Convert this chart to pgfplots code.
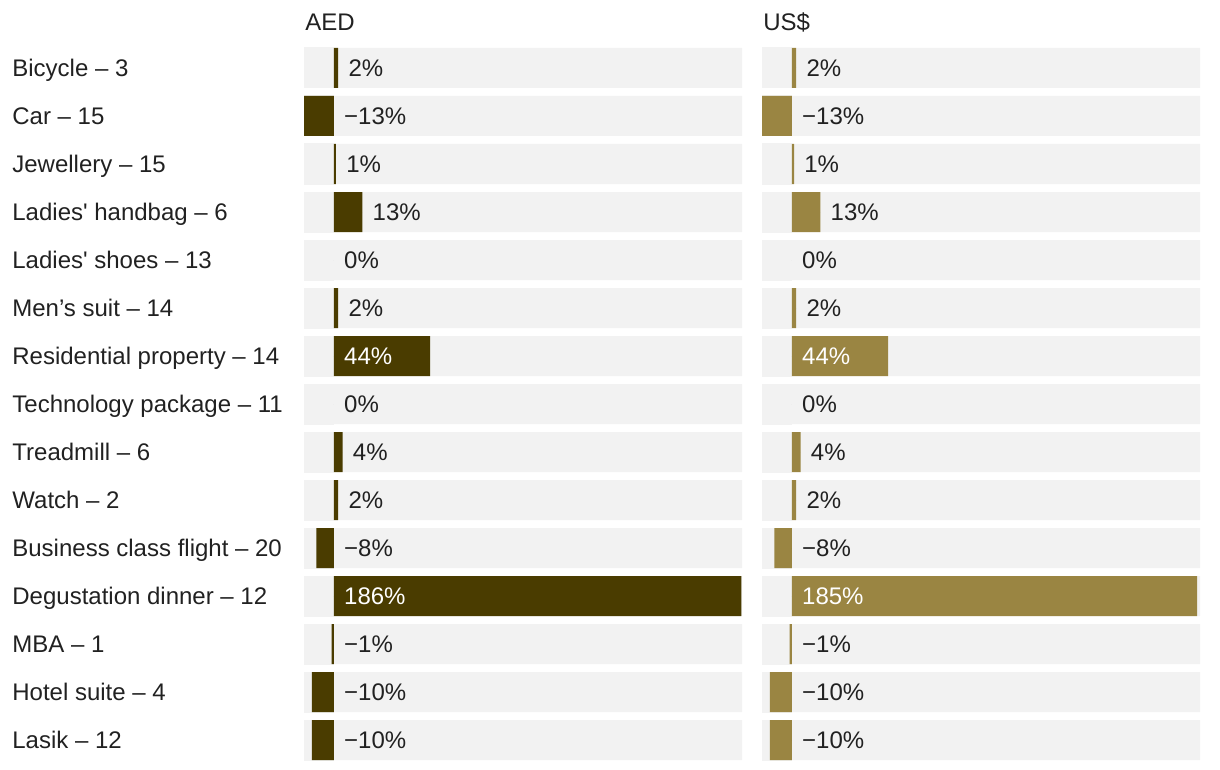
\documentclass[border=0pt]{standalone}
\usepackage{fontspec}
\setmainfont{Liberation Sans}
\usepackage{pgfplots}
\pgfplotsset{compat=1.18}
\usepackage{pgfplotstable}
\definecolor{bgrey}{HTML}{F2F2F2}
\definecolor{aedc}{HTML}{4A3C00}
\definecolor{usdc}{HTML}{9A8542}
\definecolor{txt}{HTML}{212121}

% bar values (AED, US$) per row
\pgfplotstableread{
y aed usd lo hi
0 2 2 -13.6 186.3
1 -13.6 -13.6 -13.6 186.3
2 1 1 -13.6 186.3
3 13 13 -13.6 186.3
4 0 0 -13.6 186.3
5 2 2 -13.6 186.3
6 44 44 -13.6 186.3
7 0 0 -13.6 186.3
8 4 4 -13.6 186.3
9 2 2 -13.6 186.3
10 -8 -8 -13.6 186.3
11 186 185 -13.6 186.3
12 -1 -1 -13.6 186.3
13 -10 -10 -13.6 186.3
14 -10 -10 -13.6 186.3
}\bars

% dark labels: position and text
\pgfplotstableread{
y lx lab
0 2 2
1 0 −13
2 1 1
3 13 13
4 0 0
5 2 2
7 0 0
8 4 4
9 2 2
10 0 −8
12 0 −1
13 0 −10
14 0 −10
}\darklab

\pgfplotstableread{
y lx aed usd
6 0 44 44
11 0 186 185
}\whitelab

\pgfplotsset{
  panel/.style={
    scale only axis, width=219pt, height=360pt,
    xmin=-13.6, xmax=186.3, ymin=-0.5, ymax=14.5, y dir=reverse,
    axis line style={draw=none}, xtick=\empty,
    major tick length=0pt, clip=false,
    unbounded coords=discard,
    title style={at={(0,1)}, anchor=base west, inner sep=0pt, yshift=0.7pt, xshift=0.5pt, text=txt},
    every axis plot/.append style={bar shift=0pt},
  },
  bg/.style={xbar, bar width=20pt, draw=none, fill=bgrey},
  val/.style={xbar, bar width=20pt, draw=none, fill=#1, x filter/.expression={x==0 ? nan : x}},
  lbl/.style={only marks, mark=*, mark size=0pt, mark options={draw=none, fill=none},
    nodes near coords={\pgfplotspointmeta\%}, point meta=explicit symbolic,
    nodes near coords style={anchor=base west, inner sep=0pt, xshift=5pt, yshift=-4.3pt, text=#1}},
}

\begin{document}
\fontsize{12}{14.4}\selectfont
\begin{tikzpicture}[font=\fontsize{12}{14.4}\selectfont]
\path[use as bounding box] (0,0) rectangle (610pt,385pt);
% AED panel
\begin{axis}[panel, at={(152pt,3pt)}, anchor=south west, title={AED},
  ytick={0,...,14},
  yticklabels={Bicycle – 3, Car – 15, Jewellery – 15, Ladies\textquotesingle{} handbag – 6, Ladies\textquotesingle{} shoes – 13, Men’s suit – 14, Residential property – 14, Technology package – 11, Treadmill – 6, Watch – 2, Business class flight – 20, Degustation dinner – 12, MBA – 1, Hotel suite – 4, Lasik – 12},
  yticklabel style={anchor=base west, inner sep=0pt, xshift=-146pt, yshift=-4.3pt, text=txt},
]
\addplot[bg] table[x=hi, y=y] {\bars};
\addplot[bg, draw=bgrey, line width=0.5pt] table[x=lo, y=y] {\bars};
\addplot[val=aedc] table[x=aed, y=y] {\bars};
\addplot[lbl=txt] table[x=lx, y=y, meta=lab] {\darklab};
\addplot[lbl=white] table[x=lx, y=y, meta=aed] {\whitelab};
\end{axis}
% US$ panel
\begin{axis}[panel, at={(381pt,3pt)}, anchor=south west, title={US\$}, ytick=\empty]
\addplot[bg] table[x=hi, y=y] {\bars};
\addplot[bg, draw=bgrey, line width=0.5pt] table[x=lo, y=y] {\bars};
\addplot[val=usdc] table[x=usd, y=y] {\bars};
\addplot[lbl=txt] table[x=lx, y=y, meta=lab] {\darklab};
\addplot[lbl=white] table[x=lx, y=y, meta=usd] {\whitelab};
\end{axis}
\end{tikzpicture}
\end{document}
